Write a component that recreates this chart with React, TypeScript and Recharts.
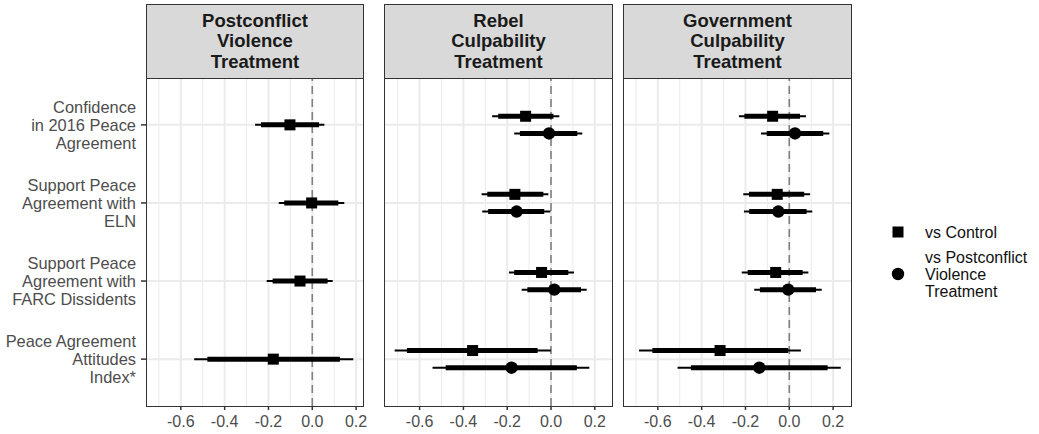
import React from 'react';
import { ScatterChart, Scatter, XAxis, YAxis, ReferenceLine } from 'recharts';

const outcomeLabels = [
  ['Confidence', 'in 2016 Peace', 'Agreement'],
  ['Support Peace', 'Agreement with', 'ELN'],
  ['Support Peace', 'Agreement with', 'FARC Dissidents'],
  ['Peace Agreement', 'Attitudes', 'Index*'],
];

const panelTitles = [
  ['Postconflict', 'Violence', 'Treatment'],
  ['Rebel', 'Culpability', 'Treatment'],
  ['Government', 'Culpability', 'Treatment'],
];

const xTicks = [-0.6, -0.4, -0.2, 0, 0.2];
const xMinor = [-0.7, -0.5, -0.3, -0.1, 0.1];
const yTicks = [1, 2, 3, 4];

// one row per outcome: [estimate, low 95, low 90, high 90, high 95]
const postconflictVsControl = [
  [-0.102, -0.261, -0.234, 0.031, 0.055],
  [-0.003, -0.153, -0.128, 0.119, 0.146],
  [-0.056, -0.208, -0.181, 0.07, 0.093],
  [-0.178, -0.539, -0.479, 0.126, 0.187],
];
const rebelVsControl = [
  [-0.116, -0.269, -0.241, 0.011, 0.038],
  [-0.165, -0.317, -0.291, -0.035, -0.012],
  [-0.043, -0.192, -0.168, 0.079, 0.105],
  [-0.358, -0.714, -0.658, -0.061, -0.001],
];
const rebelVsPostconflict = [
  [-0.009, -0.168, -0.142, 0.12, 0.143],
  [-0.157, -0.314, -0.287, -0.031, -0.003],
  [0.015, -0.134, -0.108, 0.137, 0.163],
  [-0.18, -0.541, -0.481, 0.118, 0.175],
];
const governmentVsControl = [
  [-0.076, -0.23, -0.205, 0.049, 0.076],
  [-0.055, -0.21, -0.184, 0.068, 0.095],
  [-0.062, -0.217, -0.19, 0.061, 0.087],
  [-0.316, -0.686, -0.625, -0.005, 0.053],
];
const governmentVsPostconflict = [
  [0.026, -0.129, -0.103, 0.155, 0.183],
  [-0.05, -0.207, -0.183, 0.079, 0.105],
  [-0.005, -0.16, -0.134, 0.122, 0.148],
  [-0.137, -0.51, -0.449, 0.175, 0.235],
];

const FONT = '"Liberation Sans", Arial, Helvetica, sans-serif';
const PLOT_TOP = 78;
const PLOT_H = 328;
const RIGHT_PAD = 20;

type Series = { rows: number[][]; offset: number; marker: 'square' | 'circle' };

const panels: { left: number; width: number; domain: [number, number]; series: Series[] }[] = [
  {
    left: 146, width: 217, domain: [-0.759, 0.2315],
    series: [{ rows: postconflictVsControl, offset: 0, marker: 'square' }],
  },
  {
    left: 384, width: 228, domain: [-0.7626, 0.2785],
    series: [
      { rows: rebelVsControl, offset: -0.11, marker: 'square' },
      { rows: rebelVsPostconflict, offset: 0.11, marker: 'circle' },
    ],
  },
  {
    left: 623, width: 228, domain: [-0.759, 0.2817],
    series: [
      { rows: governmentVsControl, offset: -0.11, marker: 'square' },
      { rows: governmentVsPostconflict, offset: 0.11, marker: 'circle' },
    ],
  },
];

const SquareShape = (p: any) => <rect x={p.cx - 5.5} y={p.cy - 5.5} width={11} height={11} fill="#000" />;
const CircleShape = (p: any) => <circle cx={p.cx} cy={p.cy} r={6.2} fill="#000" />;

const OutcomeTick = (props: any) => {
  const { x, y, payload } = props;
  const lines = outcomeLabels[Math.round(payload.value) - 1] || [];
  return (
    <text x={x} y={y} textAnchor="end" fill="#4D4D4D" fontSize={16.4} fontFamily={FONT}>
      {lines.map((l, i) => (
        <tspan key={i} x={x} y={y + (i - 1) * 18} dy="0.36em">{l}</tspan>
      ))}
    </text>
  );
};

const Panel = ({ idx }: { idx: number }) => {
  const p = panels[idx];
  const axisW = idx === 0 ? p.left : 0;
  return (
    <>
      <div style={{
        position: 'absolute', left: p.left, top: 4, width: p.width + 1, height: 75, boxSizing: 'border-box',
        background: '#D9D9D9', border: '1px solid #333', display: 'flex', flexDirection: 'column',
        justifyContent: 'center', alignItems: 'center', fontWeight: 'bold', fontSize: 18.5,
        lineHeight: '20.3px', color: '#1A1A1A',
      }}>
        {panelTitles[idx].map((t, i) => <div key={i}>{t}</div>)}
      </div>
      <div style={{ position: 'absolute', left: p.left - axisW, top: PLOT_TOP }}>
        <ScatterChart width={axisW + p.width + RIGHT_PAD} height={PLOT_H + 34}
          margin={{ top: 0, right: RIGHT_PAD, bottom: 0, left: 0 }}>
          <XAxis type="number" dataKey="x" domain={p.domain} allowDataOverflow ticks={xTicks} interval={0}
            tickFormatter={(v: number) => v.toFixed(1)} height={34} axisLine={false} tickSize={4} tickMargin={6}
            tickLine={{ stroke: '#333', strokeWidth: 1.5 }}
            tick={{ fill: '#4D4D4D', fontSize: 16, fontFamily: FONT }} />
          <YAxis type="number" dataKey="y" domain={[0.4, 4.6]} reversed allowDataOverflow ticks={yTicks} interval={0}
            hide={idx !== 0} width={axisW} axisLine={false} tickSize={5} tickMargin={5}
            tickLine={{ stroke: '#333', strokeWidth: 1.5 }} tick={<OutcomeTick />} />
          {xMinor.map((v) => (
            <ReferenceLine key={'mi' + v} x={v} stroke="#EBEBEB" strokeWidth={1} />
          ))}
          {xTicks.map((v) => (
            <ReferenceLine key={'ma' + v} x={v} stroke="#EBEBEB" strokeWidth={2} />
          ))}
          {yTicks.map((v) => (
            <ReferenceLine key={'h' + v} y={v} stroke="#EBEBEB" strokeWidth={2} />
          ))}
          <ReferenceLine x={0} stroke="#808080" strokeWidth={1.6} strokeDasharray="8 5" />
          {p.series.map((s, si) =>
            s.rows.map((r, ri) => {
              const y = ri + 1 + s.offset;
              return (
                <React.Fragment key={'ci' + si + '-' + ri}>
                  <ReferenceLine segment={[{ x: r[1], y }, { x: r[4], y }]} stroke="#000" strokeWidth={2} />
                  <ReferenceLine segment={[{ x: r[2], y }, { x: r[3], y }]} stroke="#000" strokeWidth={5} />
                </React.Fragment>
              );
            })
          )}
          {p.series.map((s, si) => (
            <Scatter key={'s' + si} isAnimationActive={false}
              data={s.rows.map((r, ri) => ({ x: r[0], y: ri + 1 + s.offset }))}
              shape={s.marker === 'square' ? SquareShape : CircleShape} />
          ))}
        </ScatterChart>
      </div>
      <div style={{
        position: 'absolute', left: p.left, top: PLOT_TOP, width: p.width + 1, height: PLOT_H + 1,
        boxSizing: 'border-box', border: '1px solid #333', pointerEvents: 'none',
      }} />
    </>
  );
};

export default function App() {
  return (
    <div style={{ position: 'absolute', left: 0, top: 0, width: 1039, height: 434, background: '#fff', fontFamily: FONT }}>
      {panels.map((_, i) => <Panel key={i} idx={i} />)}
      <svg style={{ position: 'absolute', left: 860, top: 200 }} width={179} height={110}>
        <rect x={32.5} y={26.5} width={11} height={11} fill="#000" />
        <text x={65} y={32} dy="0.36em" fontSize={16} fill="#111" fontFamily={FONT}>vs Control</text>
        <circle cx={38} cy={74} r={6.2} fill="#000" />
        <text x={65} y={57} dy="0.36em" fontSize={16} fill="#111" fontFamily={FONT}>vs Postconflict</text>
        <text x={65} y={74} dy="0.36em" fontSize={16} fill="#111" fontFamily={FONT}>Violence</text>
        <text x={65} y={91} dy="0.36em" fontSize={16} fill="#111" fontFamily={FONT}>Treatment</text>
      </svg>
    </div>
  );
}
